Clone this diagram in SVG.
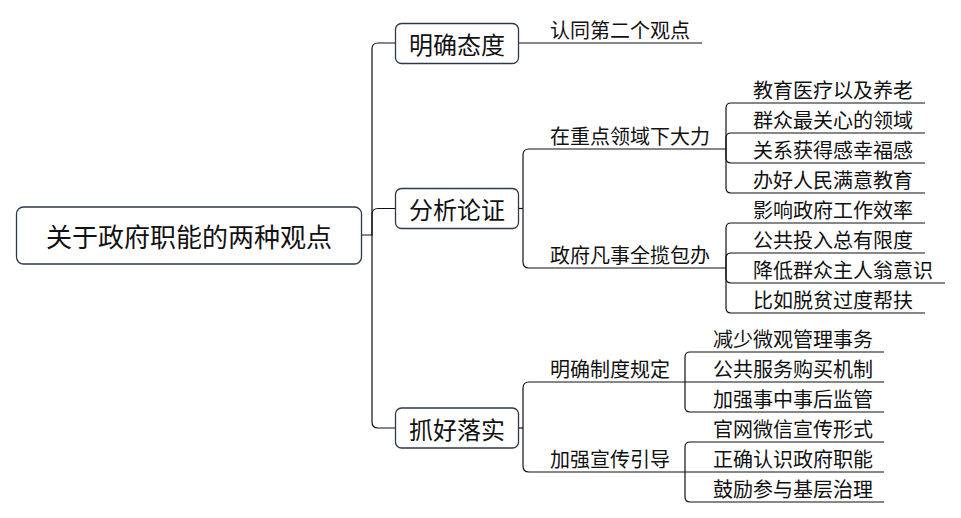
<svg xmlns="http://www.w3.org/2000/svg" width="961" height="518" viewBox="0 0 961 518">
<style>
  text { font-family: "Noto Sans CJK SC", "Noto Sans", sans-serif; fill: #111; dominant-baseline: central; }
  .root { font-size: 26px; text-anchor: middle; }
  .l1 { font-size: 24px; text-anchor: middle; }
  .leaf { font-size: 20px; }
  .box { fill: #fff; stroke: #2d3a4b; stroke-width: 1.3; }
  .conn path { fill: none; stroke: #111; stroke-width: 1.2; }
</style>
<rect width="961" height="518" fill="#fff"/>
<g class="conn" id="connectors">
  <path d="M361,235 H372 V49 Q372,43 378,43 H396"/>
  <path d="M372,235 V214.5 Q372,208.5 378,208.5 H396"/>
  <path d="M372,235 V422 Q372,428 378,428 H396"/>
  <path d="M519,43 H702"/>
  <path d="M519,208.5 H523"/>
  <path d="M523,208.5 V155 Q523,149 529,149 H726"/>
  <path d="M523,208.5 V262 Q523,268 529,268 H726"/>
  <path d="M726,149 V108 Q726,103 731,103 H925"/>
  <path d="M726,149 V138 Q726,133 731,133 H925"/>
  <path d="M726,149 V158 Q726,163 731,163 H925"/>
  <path d="M726,149 V188 Q726,193 731,193 H925"/>
  <path d="M726,268 V228 Q726,223 731,223 H925"/>
  <path d="M726,268 V258 Q726,253 731,253 H925"/>
  <path d="M726,268 V278 Q726,283 731,283 H945"/>
  <path d="M726,268 V308 Q726,313 731,313 H925"/>
  <path d="M519,428 H523"/>
  <path d="M523,428 V388 Q523,382 529,382 H685"/>
  <path d="M523,428 V466 Q523,472 529,472 H685"/>
  <path d="M685,382 V357 Q685,352 690,352 H884"/>
  <path d="M685,382 H884"/>
  <path d="M685,382 V407 Q685,412 690,412 H884"/>
  <path d="M685,472 V447 Q685,442 690,442 H884"/>
  <path d="M685,472 H884"/>
  <path d="M685,472 V497 Q685,502 690,502 H884"/>
</g>
<g id="root">
  <rect class="box" x="16.5" y="207" width="345" height="57" rx="7"/>
  <text class="root" x="189" y="235.5">关于政府职能的两种观点</text>
</g>
<g id="n-mingque">
  <rect class="box" x="395.5" y="23.5" width="123" height="40" rx="6"/>
  <text class="l1" x="457" y="43.5">明确态度</text>
</g>
<g id="n-fenxi">
  <rect class="box" x="395.5" y="188.5" width="123" height="40" rx="6"/>
  <text class="l1" x="457" y="208.5">分析论证</text>
</g>
<g id="n-zhuahao">
  <rect class="box" x="395.5" y="408" width="123" height="40" rx="6"/>
  <text class="l1" x="457" y="428">抓好落实</text>
</g>
<g id="n-rentong"><text class="leaf" x="550" y="29">认同第二个观点</text></g>
<g id="n-zaizhongdian"><text class="leaf" x="550" y="135">在重点领域下大力</text></g>
<g id="n-zhengfu"><text class="leaf" x="550" y="254">政府凡事全揽包办</text></g>
<g id="n-a1"><text class="leaf" x="753" y="89">教育医疗以及养老</text></g>
<g id="n-a2"><text class="leaf" x="753" y="119">群众最关心的领域</text></g>
<g id="n-a3"><text class="leaf" x="753" y="149">关系获得感幸福感</text></g>
<g id="n-a4"><text class="leaf" x="753" y="179">办好人民满意教育</text></g>
<g id="n-b1"><text class="leaf" x="753" y="209">影响政府工作效率</text></g>
<g id="n-b2"><text class="leaf" x="753" y="239">公共投入总有限度</text></g>
<g id="n-b3"><text class="leaf" x="753" y="269">降低群众主人翁意识</text></g>
<g id="n-b4"><text class="leaf" x="753" y="299">比如脱贫过度帮扶</text></g>
<g id="n-mingquezhidu"><text class="leaf" x="550" y="368">明确制度规定</text></g>
<g id="n-jiaqiang"><text class="leaf" x="550" y="458">加强宣传引导</text></g>
<g id="n-c1"><text class="leaf" x="713" y="338">减少微观管理事务</text></g>
<g id="n-c2"><text class="leaf" x="713" y="368">公共服务购买机制</text></g>
<g id="n-c3"><text class="leaf" x="713" y="398">加强事中事后监管</text></g>
<g id="n-d1"><text class="leaf" x="713" y="428">官网微信宣传形式</text></g>
<g id="n-d2"><text class="leaf" x="713" y="458">正确认识政府职能</text></g>
<g id="n-d3"><text class="leaf" x="713" y="488">鼓励参与基层治理</text></g>
</svg>
